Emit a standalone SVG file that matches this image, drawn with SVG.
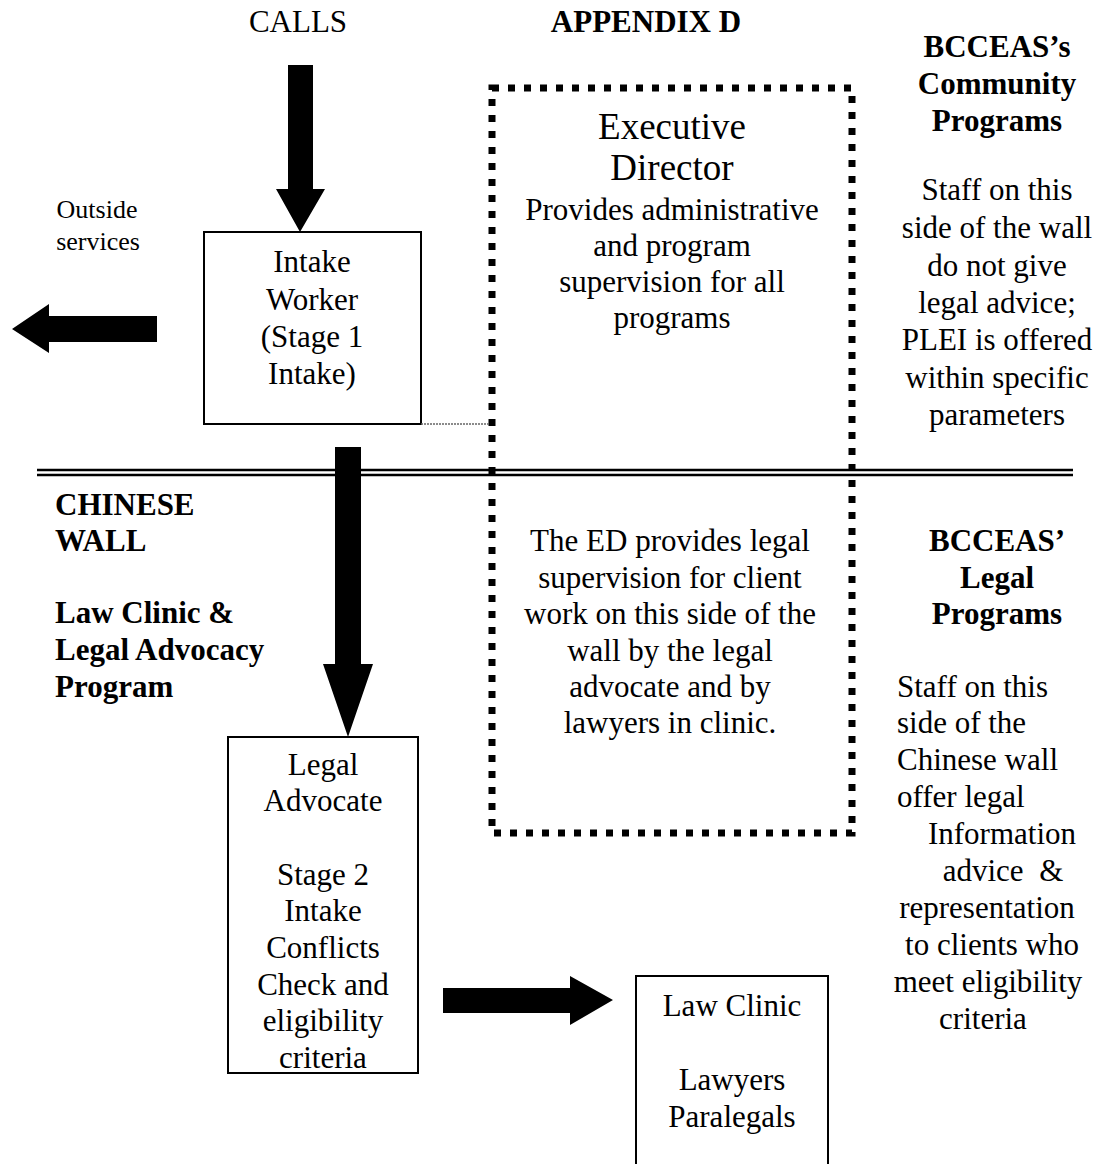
<svg xmlns="http://www.w3.org/2000/svg" width="1100" height="1164" viewBox="0 0 1100 1164">
<style>
text{font-family:"Liberation Serif","Times New Roman",serif;fill:#000;font-size:31px}
.b{font-weight:bold}
.m{text-anchor:middle}
.s{font-size:26px}
.big{font-size:37px}
.box{fill:none;stroke:#000;stroke-width:2}
</style>
<rect width="1100" height="1164" fill="#fff"/>
<g id="wall">
<line x1="37" y1="470" x2="1073" y2="470" stroke="#000" stroke-width="2.5"/>
<line x1="37" y1="475" x2="1073" y2="475" stroke="#000" stroke-width="2.5"/>
</g>
<g id="labels">
<text class="m" x="298" y="32">CALLS</text>
<text class="b m" x="646" y="32">APPENDIX D</text>
<text class="b m" x="997" y="57">BCCEAS’s</text>
<text class="b m" x="997" y="94">Community</text>
<text class="b m" x="997" y="131">Programs</text>
<text class="m" x="997" y="200">Staff on this</text>
<text class="m" x="997" y="238">side of the wall</text>
<text class="m" x="997" y="276">do not give</text>
<text class="m" x="997" y="313">legal advice;</text>
<text class="m" x="997" y="350">PLEI is offered</text>
<text class="m" x="997" y="388">within specific</text>
<text class="m" x="997" y="425">parameters</text>
<text class="s m" x="97" y="218">Outside</text>
<text class="s m" x="98" y="250">services</text>
<text class="b" x="55" y="515">CHINESE</text>
<text class="b" x="55" y="551">WALL</text>
<text class="b" x="55" y="623">Law Clinic &amp;</text>
<text class="b" x="55" y="660">Legal Advocacy</text>
<text class="b" x="55" y="697">Program</text>
<text class="b m" x="997" y="551">BCCEAS’</text>
<text class="b m" x="997" y="588">Legal</text>
<text class="b m" x="997" y="624">Programs</text>
<text x="897" y="697">Staff on this</text>
<text x="897" y="733">side of the</text>
<text x="897" y="770">Chinese wall</text>
<text x="897" y="807">offer legal</text>
<text class="m" x="1002" y="844">Information</text>
<text class="m" x="1003" y="881" xml:space="preserve">advice  &amp;</text>
<text class="m" x="987" y="918">representation</text>
<text class="m" x="992" y="955">to clients who</text>
<text class="m" x="988" y="992">meet eligibility</text>
<text class="m" x="983" y="1029">criteria</text>
</g>
<g id="executive-director">
<rect x="492" y="88" width="360" height="745" fill="none" stroke="#000" stroke-width="7" stroke-dasharray="7 9"/>
<text class="big m" x="672" y="139">Executive</text>
<text class="big m" x="672" y="180">Director</text>
<text class="m" x="672" y="220">Provides administrative</text>
<text class="m" x="672" y="256">and program</text>
<text class="m" x="672" y="292">supervision for all</text>
<text class="m" x="672" y="328">programs</text>
<text class="m" x="670" y="551">The ED provides legal</text>
<text class="m" x="670" y="588">supervision for client</text>
<text class="m" x="670" y="624">work on this side of the</text>
<text class="m" x="670" y="661">wall by the legal</text>
<text class="m" x="670" y="697">advocate and by</text>
<text class="m" x="670" y="733">lawyers in clinic.</text>
</g>
<g id="intake-worker">
<rect class="box" x="204" y="232" width="217" height="192"/>
<text class="m" x="312" y="272">Intake</text>
<text class="m" x="312" y="310">Worker</text>
<text class="m" x="312" y="347">(Stage 1</text>
<text class="m" x="312" y="384">Intake)</text>
</g>
<g id="legal-advocate">
<rect class="box" x="228" y="737" width="190" height="336"/>
<text class="m" x="323" y="775">Legal</text>
<text class="m" x="323" y="811">Advocate</text>
<text class="m" x="323" y="885">Stage 2</text>
<text class="m" x="323" y="921">Intake</text>
<text class="m" x="323" y="958">Conflicts</text>
<text class="m" x="323" y="995">Check and</text>
<text class="m" x="323" y="1031">eligibility</text>
<text class="m" x="323" y="1068">criteria</text>
</g>
<g id="law-clinic">
<path d="M636 1170V976H828V1170" fill="none" stroke="#000" stroke-width="2"/>
<text class="m" x="732" y="1016">Law Clinic</text>
<text class="m" x="732" y="1090">Lawyers</text>
<text class="m" x="732" y="1127">Paralegals</text>
</g>
<g id="connectors">
<line x1="421" y1="424" x2="490" y2="424" stroke="#666" stroke-width="1.5" stroke-dasharray="2 1"/>
<polygon points="288,65 313,65 313,189 325,189 300,232 276,189 288,189" fill="#000"/>
<polygon points="157,316 157,342 49,342 49,353 12,329 49,304 49,316" fill="#000"/>
<polygon points="335,447 361,447 361,664 373,664 348,737 323,664 335,664" fill="#000"/>
<polygon points="443,988 570,988 570,976 613,1000 570,1025 570,1013 443,1013" fill="#000"/>
</g>
</svg>
